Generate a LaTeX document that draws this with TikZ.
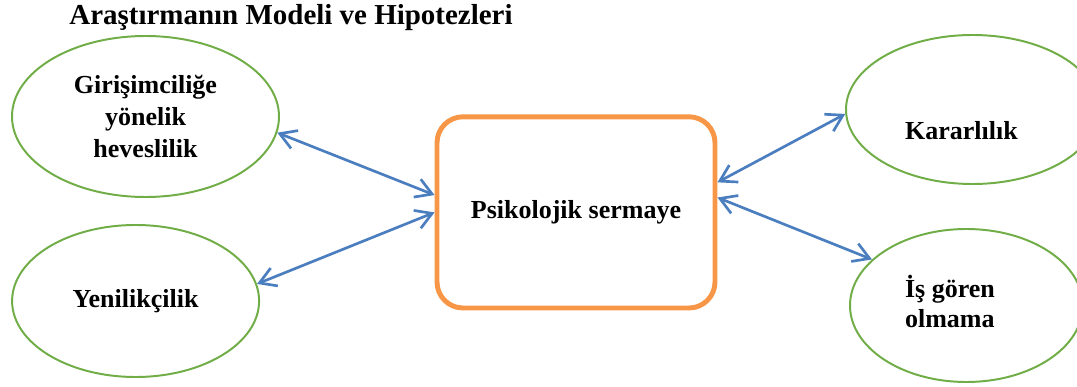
\documentclass[tikz,border=0pt]{standalone}
\usepackage{fontspec}
\setmainfont{Liberation Serif}
\usetikzlibrary{shapes.geometric,arrows.meta}

\definecolor{elgreen}{RGB}{112,173,71}
\definecolor{boxorange}{RGB}{247,150,70}
\definecolor{linkblue}{RGB}{74,126,190}

\begin{document}
\begin{tikzpicture}[
    factor/.style={draw=elgreen, line width=1.4pt, ellipse, inner sep=0pt,
        align=center, font=\fontsize{18.5}{22.5}\selectfont\bfseries},
    core/.style={draw=boxorange, line width=3.5pt, rounded corners=0.65cm,
        minimum width=6.95cm, minimum height=4.78cm,
        font=\fontsize{18.5}{22.5}\selectfont\bfseries},
    link/.style={draw=linkblue, line width=1.9pt,
        {Straight Barb[length=4mm,width=4.8mm]}-{Straight Barb[length=4mm,width=4.8mm]}}
]
            \useasboundingbox (0, 0) rectangle (26.925, -9.675);

            \node[anchor=base, font=\fontsize{20.6}{24}\selectfont\bfseries] (title) at (7.275, -0.625) {Araştırmanın Modeli ve Hipotezleri};

            \node[factor, minimum width=6.675cm, minimum height=4.025cm] (gir) at (3.6375, -2.9125) {Girişimciliğe\\yönelik\\heveslilik};
            \node[factor, minimum width=6.175cm, minimum height=3.8cm] (yen) at (3.39, -7.525) {Yenilikçilik};

            \node[core] (psi) at (14.4, -5.31) {Psikolojik sermaye};

            \node[factor, minimum width=6.325cm, minimum height=3.725cm] (kar) at (24.3125, -2.7375) {\raisebox{-0.76cm}[0pt][0pt]{Kararlılık\hspace{0.55cm}}};
            \node[factor, minimum width=5.82cm, minimum height=3.825cm] (isg) at (24.16, -7.6375) {\renewcommand{\arraystretch}{0.95}\begin{tabular}{@{}l@{\hspace{0.82cm}}}İş gören\\olmama\end{tabular}};

            \draw[link] (gir.-7) to (psi.173.7);
            \draw[link] (yen.8.7) to (psi.180);
            \draw[link] (psi.12.3) to (kar.-178.4);
            \draw[link] (psi.6.7) to (isg.154.3);
        \end{tikzpicture}
\end{document}
